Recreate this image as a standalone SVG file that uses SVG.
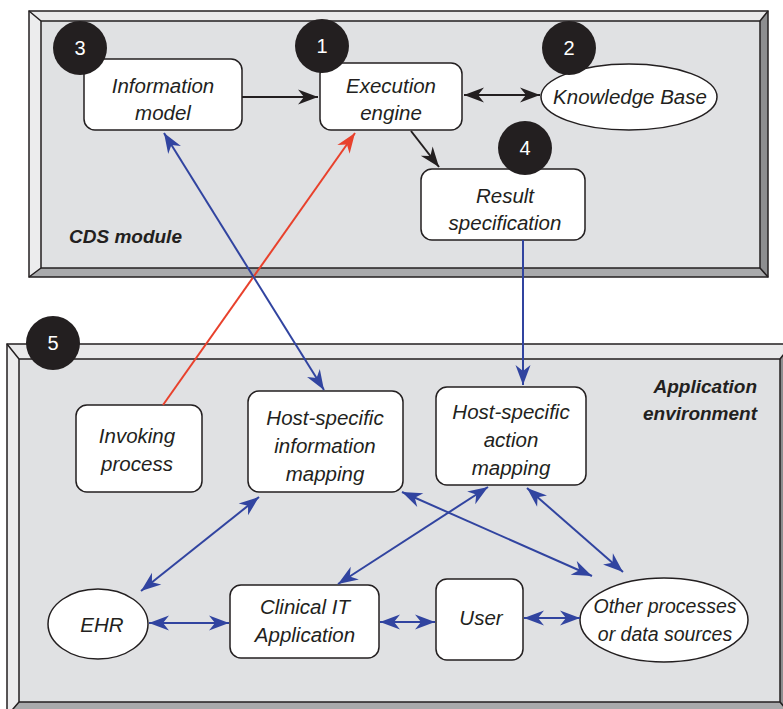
<svg xmlns="http://www.w3.org/2000/svg" width="783" height="709" viewBox="0 0 783 709">
<style>
.bx{fill:#fff;stroke:#231f20;stroke-width:1.5}
.t{font-family:"Liberation Sans",Arial,sans-serif;font-style:italic;font-size:20.5px;fill:#231f20;text-anchor:middle}
.lb{font-family:"Liberation Sans",Arial,sans-serif;font-style:italic;font-weight:bold;font-size:19px;fill:#231f20}
.num{font-family:"Liberation Sans",Arial,sans-serif;font-size:20px;fill:#fff;text-anchor:middle}
.dot{fill:#231f20}
.ed{stroke:#231f20;stroke-width:1.5}
.panel{fill:#e0e1e3;stroke:#231f20;stroke-width:1.5}
.bt{fill:#e9e9ea}.bl{fill:#ececed}.br{fill:#8d8e90}.bb{fill:#a9aaac}
.cb{stroke:#231f20;stroke-width:2;fill:none}
.cu{stroke:#3144a0;stroke-width:2;fill:none}
.cr{stroke:#e8412c;stroke-width:2;fill:none}
</style>
<defs>
<marker id="ak" viewBox="-21 -8 22 16" markerWidth="22" markerHeight="16" refX="0" refY="0" orient="auto-start-reverse" markerUnits="userSpaceOnUse"><path d="M0,0 L-20,-7.5 L-14,0 L-20,7.5 z" fill="#231f20"/></marker>
<marker id="au" viewBox="-21 -8 22 16" markerWidth="22" markerHeight="16" refX="0" refY="0" orient="auto-start-reverse" markerUnits="userSpaceOnUse"><path d="M0,0 L-20,-7.5 L-14,0 L-20,7.5 z" fill="#3144a0"/></marker>
<marker id="ar" viewBox="-21 -8 22 16" markerWidth="22" markerHeight="16" refX="0" refY="0" orient="auto-start-reverse" markerUnits="userSpaceOnUse"><path d="M0,0 L-20,-7.5 L-14,0 L-20,7.5 z" fill="#e8412c"/></marker>
</defs>
<rect width="783" height="709" fill="#fff"/>
<g id="cds-frame">
<polygon class="bt" points="29,11 768,11 760,21 41,21"/>
<polygon class="bl" points="29,11 41,21 41,268 29,277"/>
<polygon class="br" points="768,11 768,277 760,268 760,21"/>
<polygon class="bb" points="29,277 41,268 760,268 768,277"/>
<rect x="29" y="11" width="739" height="266" fill="none" class="ed"/>
<rect class="panel" x="41" y="21" width="719" height="247"/>
<path class="ed" d="M29,11 L41,21 M768,11 L760,21 M29,277 L41,268 M768,277 L760,268" fill="none"/>
<text class="lb" x="69" y="243">CDS module</text>
</g>
<g id="app-frame">
<polygon class="bt" points="7,344 792,344 780,359 19,359"/>
<polygon class="bl" points="7,344 19,359 19,702 7,716"/>
<polygon class="br" points="792,344 792,716 780,702 780,359"/>
<polygon class="bb" points="7,716 19,702 780,702 792,716"/>
<rect x="7" y="344" width="785" height="372" fill="none" class="ed"/>
<rect class="panel" x="19" y="359" width="761" height="343"/>
<path class="ed" d="M7,344 L19,359 M792,344 L780,359 M7,716 L19,702 M792,716 L780,702" fill="none"/>
<text class="lb" x="757" y="393" text-anchor="end">Application</text>
<text class="lb" x="757" y="420" text-anchor="end">environment</text>
</g>
<g id="information-model">
<rect class="bx" x="84" y="59" width="158" height="71" rx="11"/>
<text class="t" x="163" y="93">Information</text>
<text class="t" x="163" y="120">model</text>
</g>
<g id="execution-engine">
<rect class="bx" x="320" y="63" width="142" height="67" rx="11"/>
<text class="t" x="391" y="93">Execution</text>
<text class="t" x="391" y="120">engine</text>
</g>
<g id="knowledge-base">
<ellipse class="bx" cx="629" cy="97" rx="88" ry="33"/>
<text class="t" x="630" y="104">Knowledge Base</text>
</g>
<g id="result-specification">
<rect class="bx" x="421" y="169" width="164" height="71" rx="11"/>
<text class="t" x="505" y="203">Result</text>
<text class="t" x="505" y="230">specification</text>
</g>
<g id="invoking-process">
<rect class="bx" x="76" y="405" width="126" height="87" rx="11"/>
<text class="t" x="137" y="443">Invoking</text>
<text class="t" x="137" y="471">process</text>
</g>
<g id="host-information-mapping">
<rect class="bx" x="248" y="391" width="155" height="101" rx="11"/>
<text class="t" x="325" y="425">Host-specific</text>
<text class="t" x="325" y="453">information</text>
<text class="t" x="325" y="481">mapping</text>
</g>
<g id="host-action-mapping">
<rect class="bx" x="436" y="387" width="150" height="98" rx="11"/>
<text class="t" x="511" y="419">Host-specific</text>
<text class="t" x="511" y="447">action</text>
<text class="t" x="511" y="475">mapping</text>
</g>
<g id="ehr">
<ellipse class="bx" cx="98" cy="624" rx="50" ry="35"/>
<text class="t" x="102" y="632">EHR</text>
</g>
<g id="clinical-it">
<rect class="bx" x="230" y="585" width="149" height="73" rx="11"/>
<text class="t" x="305" y="614">Clinical IT</text>
<text class="t" x="305" y="642">Application</text>
</g>
<g id="user">
<rect class="bx" x="436" y="579" width="87" height="81" rx="11"/>
<text class="t" x="481" y="625">User</text>
</g>
<g id="other-processes">
<ellipse class="bx" cx="664" cy="620" rx="84" ry="42"/>
<text class="t" x="665" y="613" style="font-size:19.5px">Other processes</text>
<text class="t" x="665" y="641" style="font-size:19.5px">or data sources</text>
</g>
<g id="connectors">
<line class="cb" x1="242" y1="97" x2="318" y2="97" marker-end="url(#ak)"/>
<line class="cb" x1="464" y1="95" x2="540" y2="95" marker-start="url(#ak)" marker-end="url(#ak)"/>
<line class="cb" x1="411" y1="131" x2="439" y2="167" marker-end="url(#ak)"/>
<line class="cr" x1="163" y1="405" x2="355" y2="133" marker-end="url(#ar)"/>
<line class="cu" x1="164" y1="133" x2="324" y2="390" marker-start="url(#au)" marker-end="url(#au)"/>
<line class="cu" x1="523" y1="240" x2="523" y2="385" marker-end="url(#au)"/>
<line class="cu" x1="259" y1="497" x2="141" y2="591" marker-start="url(#au)" marker-end="url(#au)"/>
<line class="cu" x1="488" y1="487" x2="338" y2="584" marker-start="url(#au)" marker-end="url(#au)"/>
<line class="cu" x1="402" y1="492" x2="592" y2="576" marker-start="url(#au)" marker-end="url(#au)"/>
<line class="cu" x1="527" y1="488" x2="623" y2="572" marker-start="url(#au)" marker-end="url(#au)"/>
<line class="cu" x1="149" y1="623" x2="229" y2="623" marker-start="url(#au)" marker-end="url(#au)"/>
<line class="cu" x1="380" y1="622" x2="435" y2="622" marker-start="url(#au)" marker-end="url(#au)"/>
<line class="cu" x1="524" y1="618" x2="580" y2="618" marker-start="url(#au)" marker-end="url(#au)"/>
</g>
<g id="badges">
<g id="badge-3"><circle class="dot" cx="80" cy="48" r="27"/><text class="num" x="80" y="55">3</text></g>
<g id="badge-1"><circle class="dot" cx="322" cy="46" r="27"/><text class="num" x="322" y="53">1</text></g>
<g id="badge-2"><circle class="dot" cx="569" cy="48" r="27"/><text class="num" x="569" y="55">2</text></g>
<g id="badge-4"><circle class="dot" cx="525" cy="148" r="27"/><text class="num" x="525" y="155">4</text></g>
<g id="badge-5"><circle class="dot" cx="53" cy="343" r="27"/><text class="num" x="53" y="350">5</text></g>
</g>
</svg>
